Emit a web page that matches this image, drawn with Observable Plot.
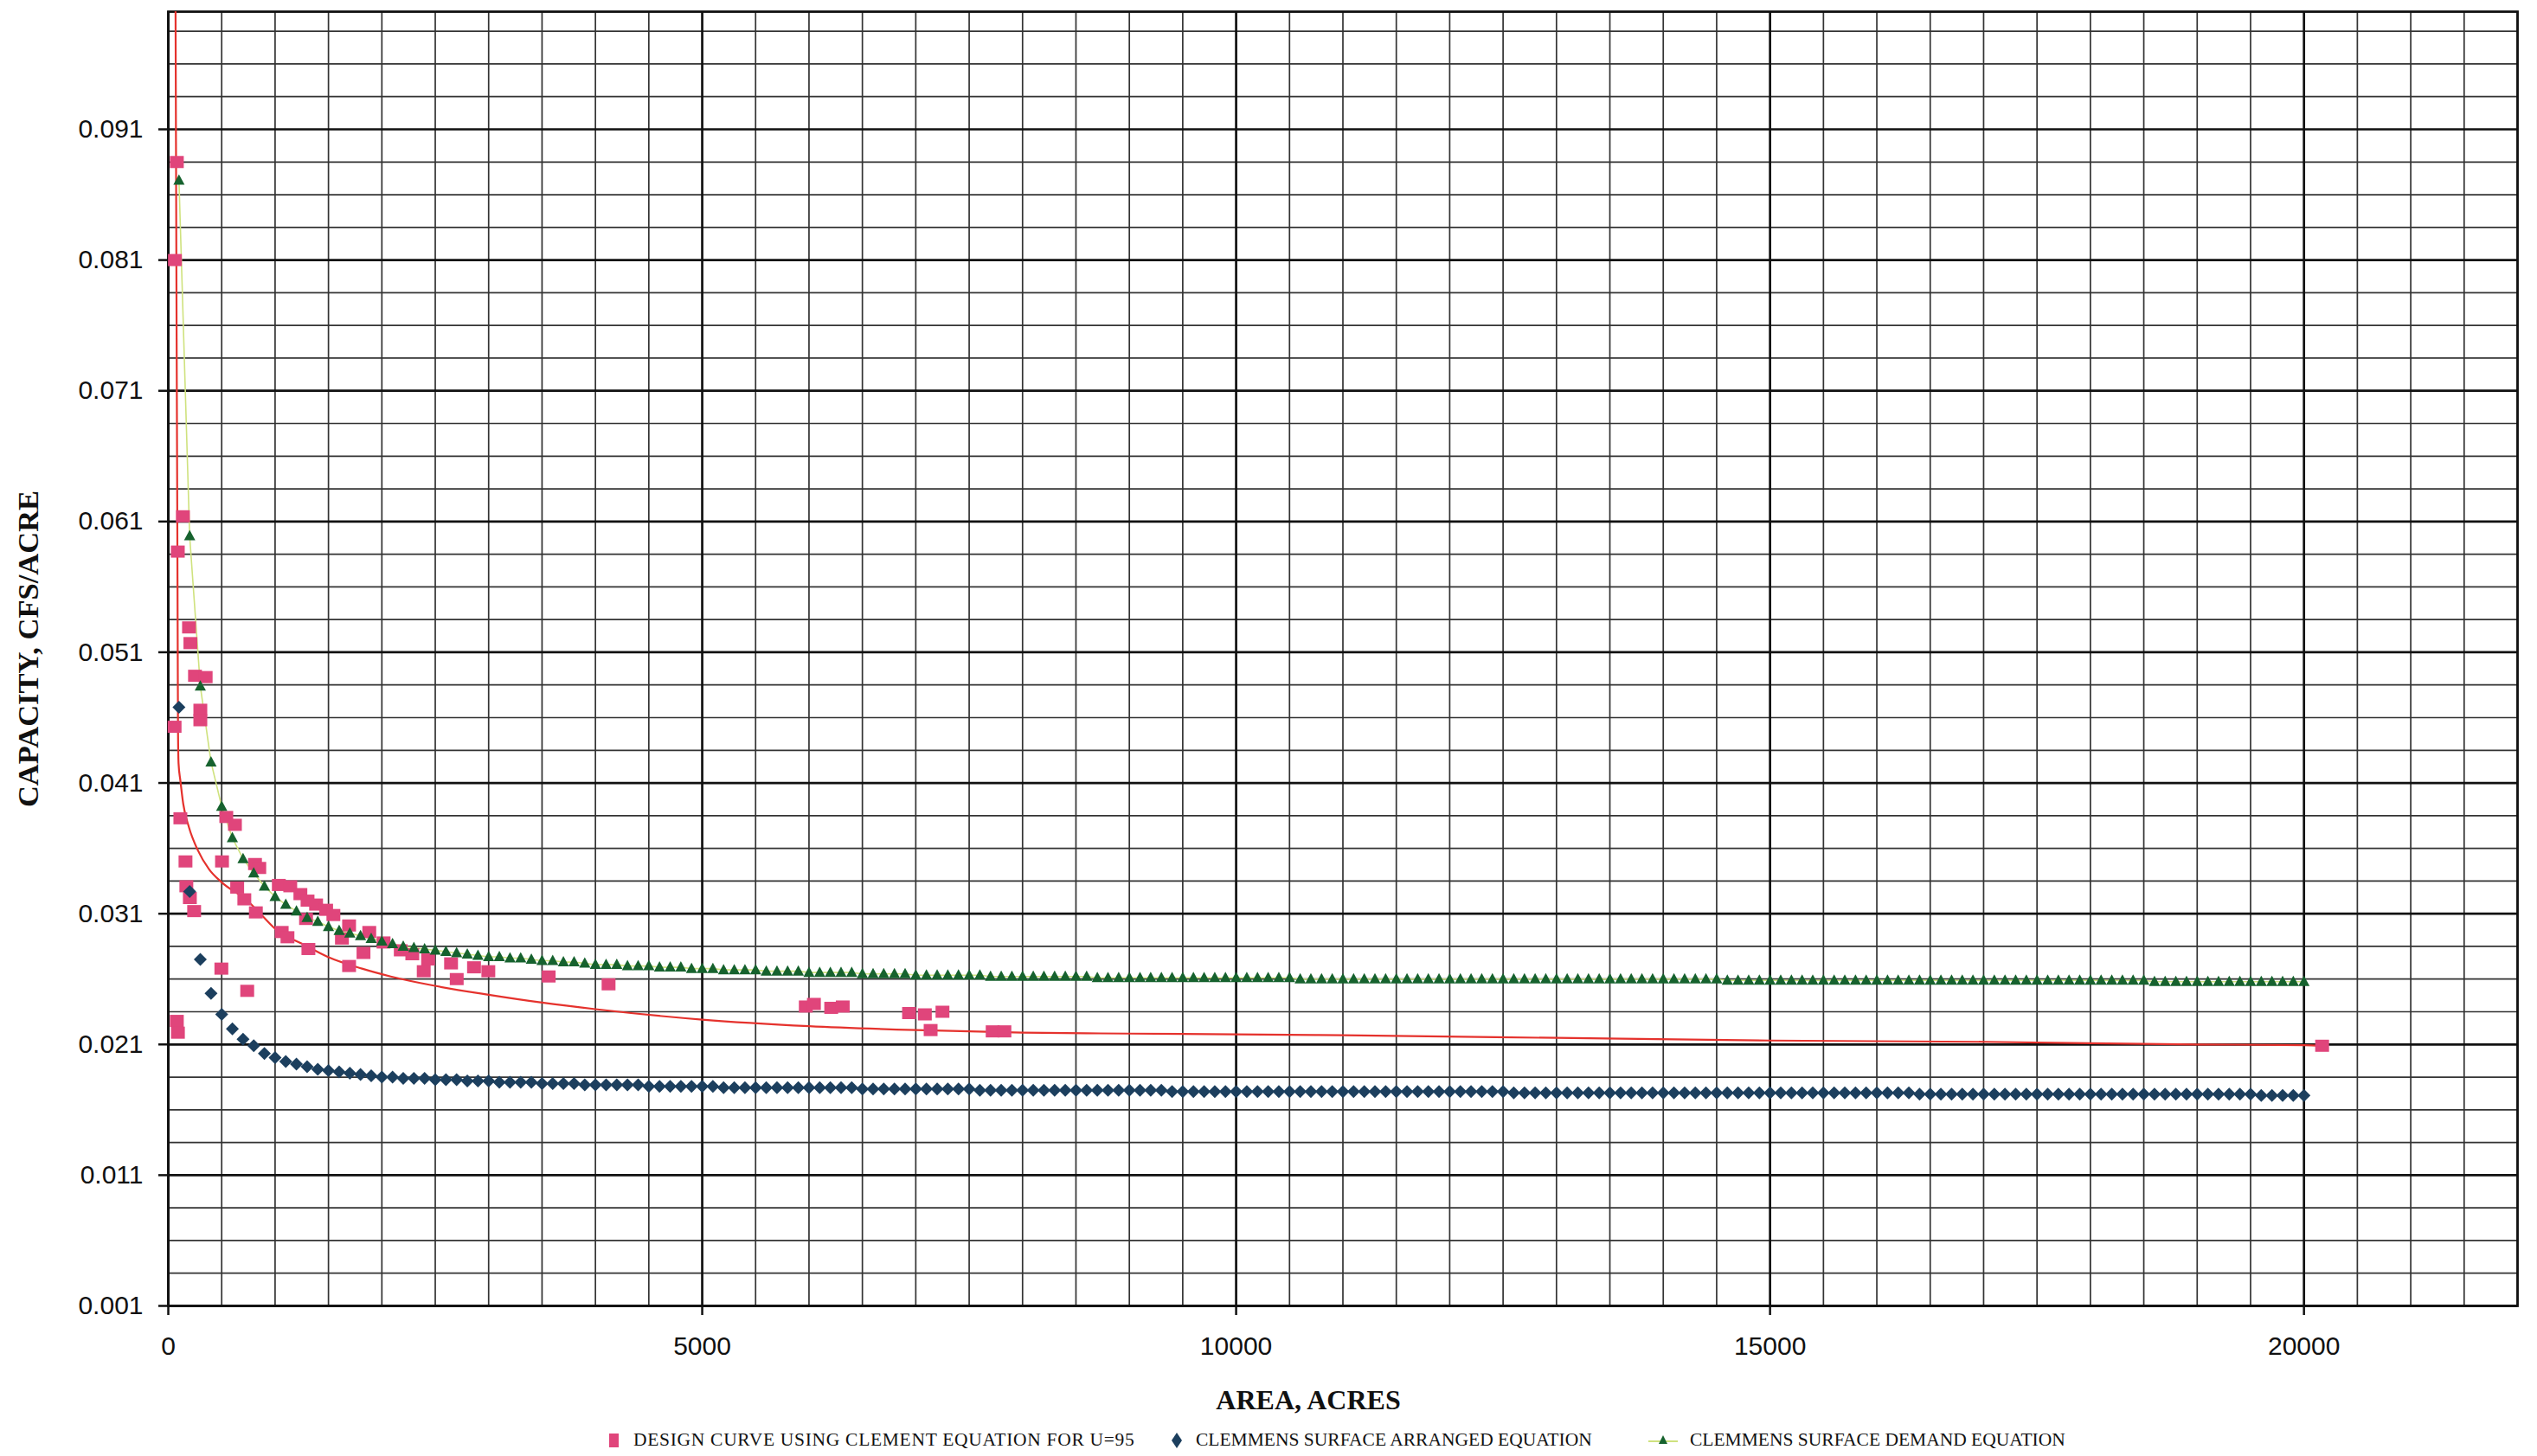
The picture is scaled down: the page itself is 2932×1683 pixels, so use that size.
<!DOCTYPE html>
<html>
<head>
<meta charset="utf-8">
<script src="https://cdn.jsdelivr.net/npm/d3@7"></script>
<script src="https://cdn.jsdelivr.net/npm/@observablehq/plot@0.6"></script>
<style>
  html, body { margin: 0; padding: 0; background: #ffffff; }
  #chart svg { display: block; }
  #legend { position: relative; width: 2932px; height: 43px; font-family: "Liberation Serif", "Times New Roman", serif; font-size: 21.5px; color: #111; }
  #legend .item { position: absolute; top: 3px; height: 43px; display: flex; align-items: center; white-space: nowrap; }
  #legend svg { display: block; margin-right: 12px; }
</style>
</head>
<body>
<div id="chart"></div>
<div id="legend"></div>
<script>
// ---------------- data ----------------
const xTicks = [0, 5000, 10000, 15000, 20000];
const yTicks = [0.001, 0.011, 0.021, 0.031, 0.041, 0.051, 0.061, 0.071, 0.081, 0.091];

// Design curve using Clement equation for U=95: scattered points (acres, cfs/acre)
const designArea = [80, 62, 137, 89, 194, 207, 250, 350, 300, 300, 59, 113, 543, 624, 161, 503, 812, 852,
  169, 202, 242, 645, 712, 820, 1035, 1142, 1237, 1304, 1384, 1478, 1546, 1290, 1062, 1116, 1312,
  1693, 1626, 1882, 2016, 1828, 1693, 2177, 2285, 2433, 2392, 2648, 2701, 2863, 2997, 3562, 4123,
  497, 739, 80, 90, 5970, 6046, 6208, 6316, 6937, 7085, 7139, 7250, 7720, 7830, 20170];
const designCap = [0.0885, 0.0810, 0.0614, 0.0587, 0.0529, 0.0517, 0.0492, 0.0491, 0.0466, 0.0458, 0.0453, 0.0383, 0.0384, 0.0378, 0.0350, 0.0350, 0.0348, 0.0345,
  0.0331, 0.0322, 0.0312, 0.0330, 0.0321, 0.0311, 0.0332, 0.0331, 0.0325, 0.0320, 0.0317, 0.0313, 0.0309, 0.0306, 0.0296, 0.0292, 0.0283,
  0.0301, 0.0291, 0.0296, 0.0288, 0.0280, 0.0270, 0.0282, 0.0279, 0.0275, 0.0266, 0.0272, 0.0260, 0.0269, 0.0266, 0.0262, 0.0256,
  0.0268, 0.0251, 0.0228, 0.0219, 0.0239, 0.0241, 0.0238, 0.0239, 0.0234, 0.0233, 0.0221, 0.0235, 0.0220, 0.0220, 0.0209];

// Red design curve (smooth line)
const curveArea = [66, 72, 78, 84, 88, 91, 96, 113, 140, 194, 274, 382, 500, 740, 874, 1008, 1277, 1492, 1814, 2083, 2486,
  3000, 3500, 4000, 5000, 6000, 7000, 8000, 9000, 10000, 11000, 13000, 15000, 17000, 19000, 20000, 20170];
const curveCap = [0.105, 0.090, 0.075, 0.062, 0.052, 0.045, 0.0425, 0.0412, 0.0394, 0.0376, 0.0359, 0.0344, 0.0334, 0.0320, 0.0309, 0.0298, 0.0286, 0.0277, 0.0268, 0.0262, 0.0255,
  0.0248, 0.0242, 0.0237, 0.0229, 0.0224, 0.0221, 0.0219, 0.02183, 0.02177, 0.0217, 0.0215, 0.0213, 0.0212, 0.0210, 0.02095, 0.0209];

// Clemmens equations: one value every 100 acres
const clemmensArea = [
  100,200,300,400,500,600,700,800,900,1000, 1100,1200,1300,1400,1500,1600,1700,1800,1900,2000,
  2100,2200,2300,2400,2500,2600,2700,2800,2900,3000, 3100,3200,3300,3400,3500,3600,3700,3800,3900,4000,
  4100,4200,4300,4400,4500,4600,4700,4800,4900,5000, 5100,5200,5300,5400,5500,5600,5700,5800,5900,6000,
  6100,6200,6300,6400,6500,6600,6700,6800,6900,7000, 7100,7200,7300,7400,7500,7600,7700,7800,7900,8000,
  8100,8200,8300,8400,8500,8600,8700,8800,8900,9000, 9100,9200,9300,9400,9500,9600,9700,9800,9900,10000,
  10100,10200,10300,10400,10500,10600,10700,10800,10900,11000, 11100,11200,11300,11400,11500,11600,11700,11800,11900,12000,
  12100,12200,12300,12400,12500,12600,12700,12800,12900,13000, 13100,13200,13300,13400,13500,13600,13700,13800,13900,14000,
  14100,14200,14300,14400,14500,14600,14700,14800,14900,15000, 15100,15200,15300,15400,15500,15600,15700,15800,15900,16000,
  16100,16200,16300,16400,16500,16600,16700,16800,16900,17000, 17100,17200,17300,17400,17500,17600,17700,17800,17900,18000,
  18100,18200,18300,18400,18500,18600,18700,18800,18900,19000, 19100,19200,19300,19400,19500,19600,19700,19800,19900,20000];

const arrangedCap = [
  0.0468,0.0327,0.0275,0.0249,0.0233,0.0222,0.0214,0.0209,0.0203,0.0200,
  0.0197,0.0195,0.0193,0.0191,0.0190,0.0189,0.0188,0.0187,0.0186,0.0185,
  0.0185,0.0184,0.0184,0.0184,0.0183,0.0183,0.0183,0.0182,0.0182,0.0182,
  0.0181,0.0181,0.0181,0.0181,0.0180,0.0180,0.0180,0.0180,0.0179,0.0179,
  0.0179,0.0179,0.0179,0.0179,0.0178,0.0178,0.0178,0.0178,0.0178,0.0178,
  0.0178,0.0177,0.0177,0.0177,0.0177,0.0177,0.0177,0.0177,0.0177,0.0177,
  0.0177,0.0177,0.0177,0.0177,0.0176,0.0176,0.0176,0.0176,0.0176,0.0176,
  0.0176,0.0176,0.0176,0.0176,0.0176,0.0175,0.0175,0.0175,0.0175,0.0175,
  0.0175,0.0175,0.0175,0.0175,0.0175,0.0175,0.0175,0.0175,0.0175,0.0175,
  0.0175,0.0175,0.0175,0.0174,0.0174,0.0174,0.0174,0.0174,0.0174,0.0174,
  0.0174,0.0174,0.0174,0.0174,0.0174,0.0174,0.0174,0.0174,0.0174,0.0174,
  0.0174,0.0174,0.0174,0.0174,0.0174,0.0174,0.0174,0.0174,0.0174,0.0174,
  0.0174,0.0174,0.0174,0.0174,0.0174,0.0173,0.0173,0.0173,0.0173,0.0173,
  0.0173,0.0173,0.0173,0.0173,0.0173,0.0173,0.0173,0.0173,0.0173,0.0173,
  0.0173,0.0173,0.0173,0.0173,0.0173,0.0173,0.0173,0.0173,0.0173,0.0173,
  0.0173,0.0173,0.0173,0.0173,0.0173,0.0173,0.0173,0.0173,0.0173,0.0173,
  0.0173,0.0173,0.0173,0.0172,0.0172,0.0172,0.0172,0.0172,0.0172,0.0172,
  0.0172,0.0172,0.0172,0.0172,0.0172,0.0172,0.0172,0.0172,0.0172,0.0172,
  0.0172,0.0172,0.0172,0.0172,0.0172,0.0172,0.0172,0.0172,0.0172,0.0172,
  0.0172,0.0172,0.0172,0.0172,0.0172,0.0171,0.0171,0.0171,0.0171,0.0171];

const demandCap = [
  0.0871,0.0599,0.0484,0.0426,0.0392,0.0368,0.0352,0.0341,0.0331,0.0323,
  0.0317,0.0312,0.0307,0.0304,0.0300,0.0297,0.0295,0.0293,0.0291,0.0289,
  0.0287,0.0285,0.0284,0.0283,0.0282,0.0281,0.0280,0.0279,0.0278,0.0277,
  0.0277,0.0276,0.0276,0.0275,0.0274,0.0274,0.0273,0.0273,0.0272,0.0271,
  0.0271,0.0271,0.0270,0.0270,0.0270,0.0269,0.0269,0.0269,0.0268,0.0268,
  0.0268,0.0267,0.0267,0.0267,0.0267,0.0266,0.0266,0.0266,0.0266,0.0265,
  0.0265,0.0265,0.0265,0.0265,0.0264,0.0264,0.0264,0.0264,0.0264,0.0263,
  0.0263,0.0263,0.0263,0.0263,0.0263,0.0263,0.0262,0.0262,0.0262,0.0262,
  0.0262,0.0262,0.0262,0.0262,0.0262,0.0262,0.0261,0.0261,0.0261,0.0261,
  0.0261,0.0261,0.0261,0.0261,0.0261,0.0261,0.0261,0.0261,0.0261,0.0261,
  0.0261,0.0261,0.0261,0.0261,0.0261,0.0260,0.0260,0.0260,0.0260,0.0260,
  0.0260,0.0260,0.0260,0.0260,0.0260,0.0260,0.0260,0.0260,0.0260,0.0260,
  0.0260,0.0260,0.0260,0.0260,0.0260,0.0260,0.0260,0.0260,0.0260,0.0260,
  0.0260,0.0260,0.0260,0.0260,0.0260,0.0260,0.0260,0.0260,0.0260,0.0260,
  0.0260,0.0260,0.0260,0.0260,0.0260,0.0259,0.0259,0.0259,0.0259,0.0259,
  0.0259,0.0259,0.0259,0.0259,0.0259,0.0259,0.0259,0.0259,0.0259,0.0259,
  0.0259,0.0259,0.0259,0.0259,0.0259,0.0259,0.0259,0.0259,0.0259,0.0259,
  0.0259,0.0259,0.0259,0.0259,0.0259,0.0259,0.0259,0.0259,0.0259,0.0259,
  0.0259,0.0259,0.0259,0.0259,0.0259,0.0258,0.0258,0.0258,0.0258,0.0258,
  0.0258,0.0258,0.0258,0.0258,0.0258,0.0258,0.0258,0.0258,0.0258,0.0258];

const seriesNames = [
  "DESIGN CURVE USING CLEMENT EQUATION FOR U=95",
  "CLEMMENS SURFACE ARRANGED EQUATION",
  "CLEMMENS SURFACE DEMAND EQUATION"
];
const xTitle = "AREA, ACRES";
const yTitle = "CAPACITY, CFS/ACRE";

// ---------------- tables ----------------
const design = designArea.map((a, i) => ({area: a, cap: designCap[i]}));
const curve = curveArea.map((a, i) => ({area: a, cap: curveCap[i]}));
const arranged = clemmensArea.map((a, i) => ({area: a, cap: arrangedCap[i]}));
const demand = clemmensArea.map((a, i) => ({area: a, cap: demandCap[i]}));

const minorX = d3.range(0, 22001, 500).filter(v => v % 5000 !== 0);
const majorX = d3.range(0, 22001, 5000);
const minorY = d3.range(0, 40).map(k => +(0.001 + 0.0025 * k).toFixed(4)).filter((v, k) => k % 4 !== 0);
const majorY = yTicks;

// ---------------- symbols ----------------
const C = {pink: "#e0457b", red: "#e5322d", navy: "#1c3f5e", green: "#16622e", lime: "#cfe27e"};
const squareSym = {draw(ctx) { ctx.rect(-8, -7, 16, 14); }};
const diamondSym = {draw(ctx) { ctx.moveTo(0, -7.5); ctx.lineTo(7.5, 0); ctx.lineTo(0, 7.5); ctx.lineTo(-7.5, 0); ctx.closePath(); }};
const triangleSym = {draw(ctx) { ctx.moveTo(0, -7); ctx.lineTo(6.5, 5); ctx.lineTo(-6.5, 5); ctx.closePath(); }};

// ---------------- chart ----------------
const chart = Plot.plot({
  width: 2932,
  height: 1640,
  marginLeft: 194,
  marginRight: 23,
  marginTop: 13,
  marginBottom: 131,
  style: {fontFamily: "'Liberation Sans', Arial, sans-serif", fontSize: "30px", background: "#ffffff", color: "#111"},
  x: {domain: [0, 22000]},
  y: {domain: [0.001, 0.1]},
  marks: [
    Plot.ruleX(minorX, {stroke: "#333", strokeWidth: 1.7}),
    Plot.ruleY(minorY, {stroke: "#333", strokeWidth: 1.7}),
    Plot.ruleX(majorX, {stroke: "#111", strokeWidth: 2.7}),
    Plot.ruleY(majorY, {stroke: "#111", strokeWidth: 2.7}),
    Plot.frame({stroke: "#111", strokeWidth: 2.8}),
    Plot.axisX({ticks: xTicks, tickFormat: d => String(d), tickSize: 11, tickPadding: 24, fontSize: 30, label: null, strokeWidth: 2.5}),
    Plot.axisY({ticks: yTicks, tickFormat: d3.format(".3f"), tickSize: 11, tickPadding: 18, fontSize: 30, label: null, strokeWidth: 2.5}),
    Plot.line(demand, {x: "area", y: "cap", stroke: C.lime, strokeWidth: 1.6, clip: true}),
    Plot.line(curve, {x: "area", y: "cap", stroke: C.red, strokeWidth: 2.2, curve: "monotone-x", clip: true}),
    Plot.dot(design, {x: "area", y: "cap", symbol: squareSym, fill: C.pink, stroke: "none", r: 5}),
    Plot.dot(arranged, {x: "area", y: "cap", symbol: diamondSym, fill: C.navy, stroke: "none", r: 5}),
    Plot.dot(demand, {x: "area", y: "cap", symbol: triangleSym, fill: C.green, stroke: "none", r: 5})
  ]
});
document.getElementById("chart").appendChild(chart);

// axis titles (serif bold, as in the reference)
const svg = d3.select(chart);
svg.append("text")
  .attr("x", 1512).attr("y", 1629)
  .attr("text-anchor", "middle")
  .attr("font-family", "'Liberation Serif', 'Times New Roman', serif")
  .attr("font-weight", "bold").attr("font-size", 32).attr("fill", "#111")
  .text(xTitle);
svg.append("text")
  .attr("transform", "translate(44,750) rotate(-90)")
  .attr("text-anchor", "middle")
  .attr("font-family", "'Liberation Serif', 'Times New Roman', serif")
  .attr("font-weight", "bold").attr("font-size", 34.5).attr("fill", "#111")
  .text(yTitle);

// ---------------- legend ----------------
const legendItems = [
  {left: 700, spacing: "0.7px", svg: `<svg width="20" height="20"><rect x="4" y="2" width="11" height="16" fill="${C.pink}"/></svg>`, name: seriesNames[0]},
  {left: 1350, spacing: "0px", svg: `<svg width="20" height="20"><path d="M10 1 L16 10 L10 19 L4 10 Z" fill="${C.navy}"/></svg>`, name: seriesNames[1]},
  {left: 1903, spacing: "0px", svg: `<svg width="38" height="20"><line x1="2" y1="11" x2="36" y2="11" stroke="${C.lime}" stroke-width="2"/><path d="M19 4 L24 14 L14 14 Z" fill="${C.green}"/></svg>`, name: seriesNames[2]}
];
const legend = document.getElementById("legend");
for (const it of legendItems) {
  const d = document.createElement("div");
  d.className = "item";
  d.style.left = it.left + "px";
  d.innerHTML = it.svg + `<span style="letter-spacing:${it.spacing}">${it.name}</span>`;
  legend.appendChild(d);
}
</script>
</body>
</html>
